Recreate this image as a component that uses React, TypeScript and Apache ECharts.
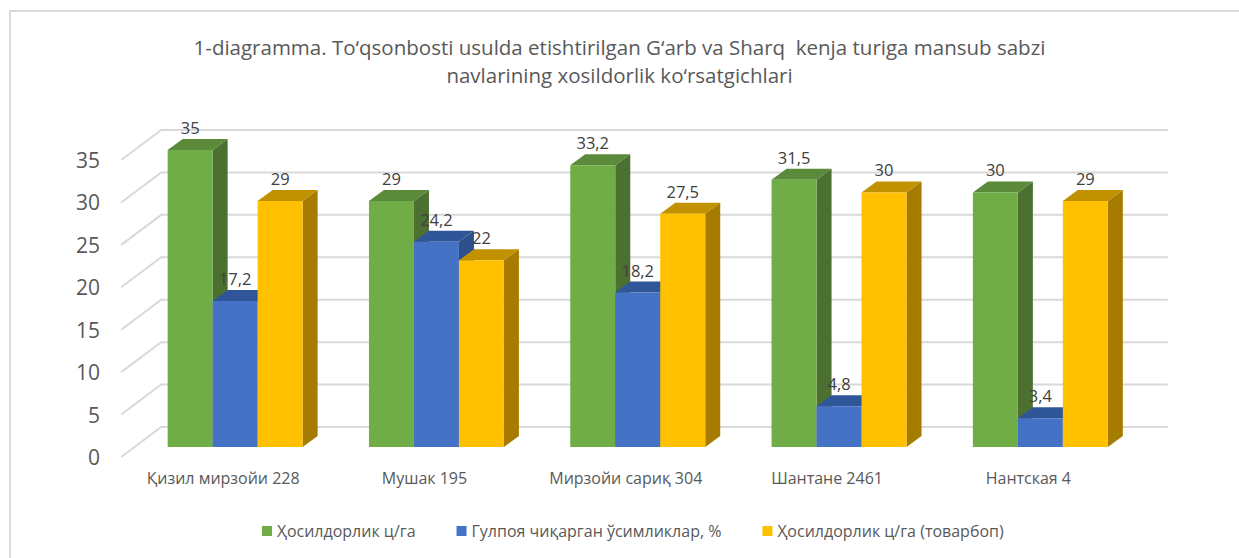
import React, { useEffect, useRef } from "react";
import * as echarts from "echarts";

const categories = ["Қизил мирзойи 228", "Мушак 195", "Мирзойи сариқ 304", "Шантане 2461", "Нантская 4"];
const seriesNames = ["Ҳосилдорлик ц/га", "Гулпоя чиқарган ўсимликлар, %", "Ҳосилдорлик ц/га (товарбоп)"];
const yieldValues = [35, 29, 33.2, 31.5, 30];
const floweringValues = [17.2, 24.2, 18.2, 4.8, 3.4];
const marketableValues = [29, 22, 27.5, 30, 29];
const yTicks = [0, 5, 10, 15, 20, 25, 30, 35];
const titleText =
  "1-diagramma. To‘qsonbosti usulda etishtirilgan G‘arb va Sharq  kenja turiga mansub sabzi\nnavlarining xosildorlik ko‘rsatgichlari";

const FONT = "'Open Sans', sans-serif";
const faces = [
  { front: "#70ad47", top: "#5a8a3a", side: "#4b7030" },
  { front: "#4472c4", top: "#30569a", side: "#2d4f8a" },
  { front: "#ffc000", top: "#c29100", side: "#a67c00" },
];
const DX = 15;
const DY = 11;
const FRONT_DX = -13.3;
const FRONT_DY = 10;
const BACK_DX = 26.7;
const BACK_DY = -20;

const fmt = (v: number) => String(v).replace(".", ",");

const makeBarRender = (k: number) => (params: any, api: any) => {
  const cat = api.value(0);
  const v = api.value(1);
  const [cx, yTop] = api.coord([cat, v]);
  const [, yBase] = api.coord([cat, 0]);
  const band = api.size([1, 0])[0];
  const w = band * 0.2235;
  const x0 = cx - 1.5 * w + k * w;
  const x1 = x0 + w;
  const f = faces[k];
  return {
    type: "group",
    children: [
      {
        type: "polygon",
        shape: { points: [[x1, yTop], [x1 + DX, yTop - DY], [x1 + DX, yBase - DY], [x1, yBase]] },
        style: { fill: f.side },
      },
      {
        type: "polygon",
        shape: { points: [[x0, yTop], [x1, yTop], [x1 + DX, yTop - DY], [x0 + DX, yTop - DY]] },
        style: { fill: f.top },
      },
      {
        type: "rect",
        shape: { x: x0, y: yTop, width: w, height: yBase - yTop },
        style: { fill: f.front },
      },
      {
        type: "text",
        x: (x0 + x1) / 2,
        y: yTop - 22.5,
        style: {
          text: fmt(v),
          fill: "#404040",
          font: `16.5px ${FONT}`,
          align: "center",
          verticalAlign: "middle",
        },
      },
    ],
  };
};

const gridRender = (params: any, api: any) => {
  const v = api.value(1);
  const band = api.size([1, 0])[0];
  const [cx0, y] = api.coord([0, v]);
  const [cxN] = api.coord([categories.length - 1, v]);
  const left = cx0 - band / 2;
  const right = cxN + band / 2;
  return {
    type: "group",
    children: [
      {
        type: "polyline",
        shape: {
          points: [
            [left + FRONT_DX, y + FRONT_DY],
            [left + BACK_DX, y + BACK_DY],
            [right + BACK_DX, y + BACK_DY],
          ],
        },
        style: { stroke: "#d9d9d9", lineWidth: 2, fill: null },
      },
      {
        type: "text",
        x: left - 34.5,
        y: y + FRONT_DY,
        style: {
          text: String(v),
          fill: "#595959",
          font: `21px ${FONT}`,
          align: "right",
          verticalAlign: "middle",
        },
      },
    ],
  };
};

export default function App() {
  const ref = useRef<HTMLDivElement>(null);
  useEffect(() => {
    if (!ref.current) return;
    document.body.style.margin = "0";
    document.documentElement.style.overflow = "hidden";
    const chart = echarts.init(ref.current, undefined, { renderer: "svg" });
    const valueSets = [yieldValues, floweringValues, marketableValues];
    chart.setOption({
      animation: false,
      backgroundColor: "#ffffff",
      textStyle: { fontFamily: FONT },
      graphic: [
        {
          type: "polyline",
          z: -10,
          shape: { points: [[10, 700], [10, 11], [1400, 11]] },
          style: { fill: null, stroke: "#d9d9d9", lineWidth: 2 },
          silent: true,
        },
        {
          type: "text",
          x: 619.5,
          y: 33,
          silent: true,
          style: {
            text: titleText,
            fill: "#595959",
            font: `20.5px ${FONT}`,
            lineHeight: 28,
            align: "center",
            verticalAlign: "top",
          },
        },
      ],
      legend: {
        data: seriesNames,
        left: 257,
        top: 518,
        icon: "rect",
        itemWidth: 10,
        itemHeight: 10,
        itemGap: 41,
        textStyle: { fontFamily: FONT, fontSize: 16, color: "#595959" },
      },
      grid: { left: 134.5, right: 98, top: 150, bottom: 111, containLabel: false },
      xAxis: {
        type: "category",
        data: categories,
        axisLine: { show: false },
        axisTick: { show: false },
        splitLine: { show: false },
        axisLabel: {
          interval: 0,
          fontFamily: FONT,
          fontSize: 16,
          color: "#595959",
          margin: 23,
          padding: [0, 24, 0, 0],
        },
      },
      yAxis: {
        type: "value",
        min: 0,
        max: 35,
        interval: 5,
        axisLine: { show: false },
        axisTick: { show: false },
        splitLine: { show: false },
        axisLabel: { show: false },
      },
      series: [
        {
          type: "custom",
          name: "grid",
          z: 1,
          silent: true,
          clip: false,
          renderItem: gridRender,
          encode: { x: 0, y: 1 },
          data: yTicks.map((v) => [0, v]),
        },
        ...seriesNames.map((name, k) => ({
          type: "custom",
          name,
          z: 2,
          clip: false,
          itemStyle: { color: faces[k].front },
          renderItem: makeBarRender(k),
          encode: { x: 0, y: 1 },
          data: valueSets[k].map((v, i) => [i, v]),
        })),
      ],
    });
    return () => chart.dispose();
  }, []);
  return (
    <div
      ref={ref}
      style={{ position: "fixed", left: 0, top: 0, width: 1239, height: 558 }}
    />
  );
}
